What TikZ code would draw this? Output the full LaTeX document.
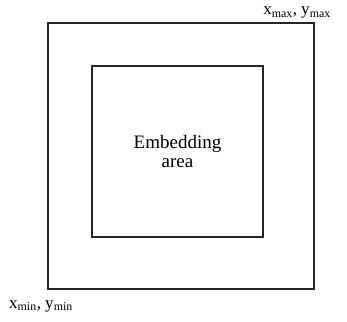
\documentclass[tikz,border=0pt]{standalone}
\usepackage{fontspec}
\setmainfont{Liberation Serif}
\usetikzlibrary{positioning}

\begin{document}
\begin{tikzpicture}[x=1pt,y=-1pt,
  sq/.style={draw=black!85,line width=2pt,minimum size=#1,inner sep=0pt},
  lbl/.style={font=\fontsize{17}{17}\selectfont,inner sep=0pt}]
  \useasboundingbox (0,0) rectangle (347,321);
  \node[sq=266pt] (outer) at (181,156) {};
  \node[sq=171pt,align=center,font=\fontsize{19}{19}\selectfont] (inner) at (177.5,151) {Embedding\\area};
  \node[lbl,anchor=base] (maxc) at (297,15) {x\textsubscript{max}, y\textsubscript{max}};
  \node[lbl,anchor=base] (minc) at (41,308) {x\textsubscript{min}, y\textsubscript{min}};
\end{tikzpicture}
\end{document}
